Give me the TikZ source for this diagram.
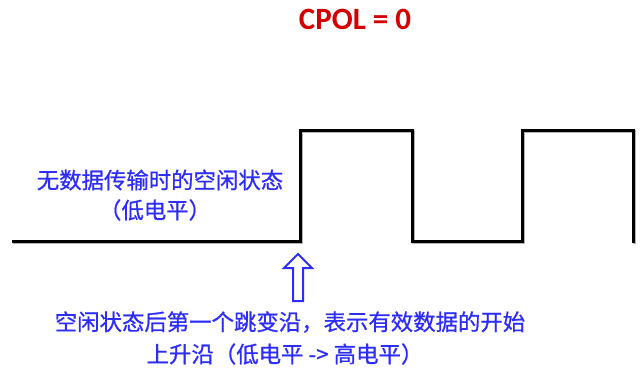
\documentclass[tikz,border=0pt]{standalone}
\usepackage{fontspec}
\newfontfamily\cjk[UprightFeatures={FakeBold=0.8}]{Noto Sans CJK SC}
\newfontfamily\titlefont{Carlito}
\definecolor{txtblue}{RGB}{45,45,245}
\definecolor{titlered}{RGB}{210,0,0}
\begin{document}
\begin{tikzpicture}[x=1pt,y=-1pt,
  wave/.style={line width=3pt,line join=miter,black},
  shadow/.style={line width=3pt,black!30},
  lbl/.style={inner sep=0pt,text=txtblue,font=\cjk\fontsize{22.4}{26}\selectfont},
  ttl/.style={inner sep=0pt,text=titlered,font=\titlefont\bfseries\fontsize{31}{34}\selectfont},
  hollowarrow/.style={draw=txtblue,line width=2pt,fill=white,line join=miter}]
\useasboundingbox (0,0) rectangle (644,369);
\node[ttl] (title) at (355,19) {CPOL = 0};
\coordinate (s0) at (12,241);
\coordinate (s1) at (300,241);
\coordinate (s2) at (300,130);
\coordinate (s3) at (412,130);
\coordinate (s4) at (412,241);
\coordinate (s5) at (522,241);
\coordinate (s6) at (522,130);
\coordinate (s7) at (633,130);
\coordinate (s8) at (633,243);
\draw[shadow,transform canvas={xshift=1.2pt,yshift=-1.2pt}] (s0) -- (s1) -- (s2) -- (s3) -- (s4) -- (s5) -- (s6) -- (s7) -- (s8);
\draw[wave] (s0) -- (s1) -- (s2) -- (s3) -- (s4) -- (s5) -- (s6) -- (s7) -- (s8);
\node[lbl] (idle1) at (160,180) {无数据传输时的空闲状态};
\node[lbl] (idle2) at (155,210) {（低电平）};
\draw[hollowarrow] (298,254) -- (312,268) -- (303,268) -- (303,301) -- (293,301) -- (293,268) -- (284,268) -- cycle;
\node[lbl] (edge1) at (290,322) {空闲状态后第一个跳变沿，表示有效数据的开始};
\node[lbl] (edge2) at (285,354) {上升沿（低电平 -> 高电平）};
\end{tikzpicture}
\end{document}
